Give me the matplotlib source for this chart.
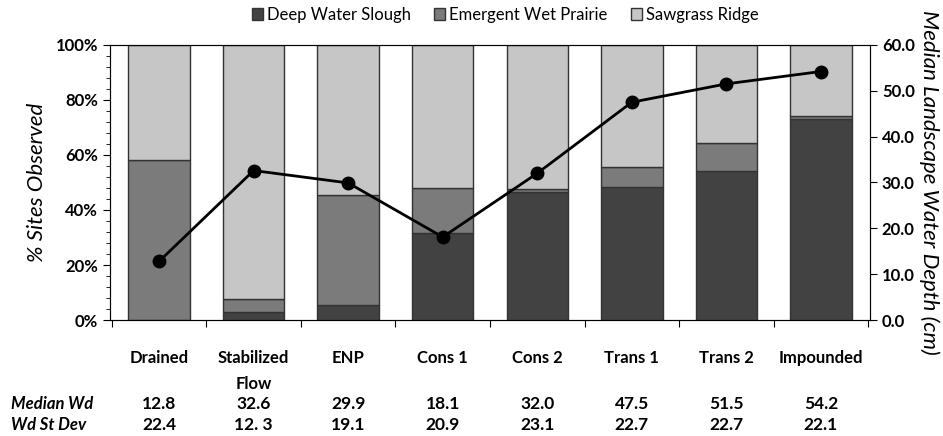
import matplotlib.pyplot as plt
import numpy as np
from matplotlib.ticker import MultipleLocator, FuncFormatter

categories = ["Drained", "Stabilized\nFlow", "ENP", "Cons 1", "Cons 2", "Trans 1", "Trans 2", "Impounded"]
deep_water = [0.0, 3.0, 5.5, 31.5, 46.5, 48.5, 54.0, 73.0]
emergent = [58.0, 4.5, 40.0, 16.5, 1.0, 7.0, 10.5, 1.2]
sawgrass = [100 - d - e for d, e in zip(deep_water, emergent)]
median_wd = [12.8, 32.6, 29.9, 18.1, 32.0, 47.5, 51.5, 54.2]
median_lbl = ["12.8", "32.6", "29.9", "18.1", "32.0", "47.5", "51.5", "54.2"]
stdev_lbl = ["22.4", "12. 3", "19.1", "20.9", "23.1", "22.7", "22.7", "22.1"]

plt.rcParams['font.family'] = ['Lato', 'DejaVu Sans']

fig = plt.figure(figsize=(9.43, 4.36), dpi=100)
ax = fig.add_axes([0.1166, 0.266, 0.806, 0.631])
x = np.arange(len(categories))
w = 0.65
ec = "#333333"
ax.bar(x, deep_water, w, color="#424242", edgecolor=ec, lw=1, label="Deep Water Slough")
ax.bar(x, emergent, w, bottom=deep_water, color="#7b7b7b", edgecolor=ec, lw=1, label="Emergent Wet Prairie")
ax.bar(x, sawgrass, w, bottom=np.array(deep_water) + np.array(emergent),
       color="#c6c6c6", edgecolor=ec, lw=1, label="Sawgrass Ridge")
ax.set_xlim(-0.52, 7.52)
ax.set_ylim(0, 100)
ax.yaxis.set_major_locator(MultipleLocator(20))
ax.yaxis.set_minor_locator(MultipleLocator(4))
ax.yaxis.set_major_formatter(FuncFormatter(lambda v, p: f"{int(v)}%"))
ax.tick_params(axis="y", which="major", length=5, labelsize=12, direction="out")
ax.tick_params(axis="y", which="minor", length=3, direction="out")
ax.set_xticks(np.arange(-0.5, 8, 1))
ax.set_xticklabels([])
ax.tick_params(axis="x", length=5, direction="out")
for lbl in ax.get_yticklabels():
    lbl.set_fontweight("bold")
for i, c in enumerate(categories):
    ax.text(i, -11, c, ha="center", va="top", fontsize=12, fontweight="bold",
            transform=ax.transData, linespacing=1.75)
for s in ax.spines.values():
    s.set_color("#444444")
ax.set_ylabel("% Sites Observed", fontsize=16, style="italic", labelpad=6)

ax2 = ax.twinx()
ax2.plot(x, median_wd, color="black", lw=2, marker="o", ms=9)
ax2.set_ylim(0, 60)
ax2.yaxis.set_major_locator(MultipleLocator(10))
ax2.yaxis.set_major_formatter(FuncFormatter(lambda v, p: f"{v:.1f}"))
ax2.tick_params(axis="y", length=5, labelsize=12)
for lbl in ax2.get_yticklabels():
    lbl.set_fontweight("bold")
ax2.set_ylabel("Median Landscape Water Depth (cm)", fontsize=16, style="italic",
               rotation=270, labelpad=18)

# table rows under the axis
fig.text(0.012, 1 - 404 / 436, "Median Wd", fontsize=12, fontweight="bold", style="italic", va="center")
fig.text(0.012, 1 - 425 / 436, "Wd St Dev", fontsize=12, fontweight="bold", style="italic", va="center")
for i in range(len(categories)):
    xf = fig.transFigure.inverted().transform(ax.transData.transform((i, 0)))[0]
    fig.text(xf, 1 - 404 / 436, median_lbl[i], ha="center", va="center", fontsize=12.5, fontweight="bold")
    fig.text(xf, 1 - 425 / 436, stdev_lbl[i], ha="center", va="center", fontsize=12.5, fontweight="bold")

ax.legend(loc="center", bbox_to_anchor=(0.52, 1 + 30 / 275), ncol=3, frameon=False, fontsize=12,
          handlelength=0.65, handleheight=0.65, handletextpad=0.25, columnspacing=1.4, borderaxespad=0)

fig.savefig("out.png", dpi=100)
